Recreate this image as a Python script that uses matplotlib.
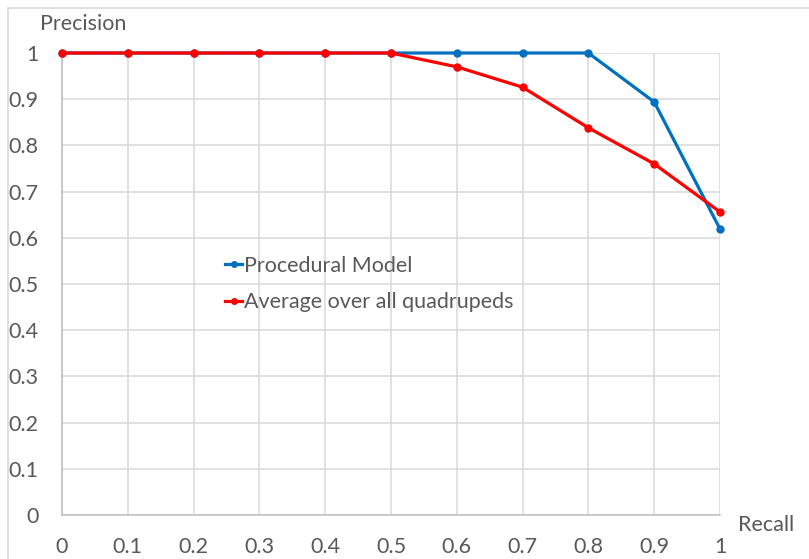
import matplotlib
matplotlib.use("Agg")
import matplotlib.pyplot as plt
from matplotlib.patches import Rectangle

# Precision-recall values
recall = [0, 0.1, 0.2, 0.3, 0.4, 0.5, 0.6, 0.7, 0.8, 0.9, 1.0]
precision_procedural = [1, 1, 1, 1, 1, 1, 1, 1, 1, 0.894, 0.619]
precision_average = [1, 1, 1, 1, 1, 1, 0.970, 0.926, 0.838, 0.760, 0.656]

series_names = ["Procedural Model", "Average over all quadrupeds"]
x_ticks = [0, 0.1, 0.2, 0.3, 0.4, 0.5, 0.6, 0.7, 0.8, 0.9, 1]
x_tick_labels = ["0", "0.1", "0.2", "0.3", "0.4", "0.5", "0.6", "0.7", "0.8", "0.9", "1"]
y_ticks = [0, 0.1, 0.2, 0.3, 0.4, 0.5, 0.6, 0.7, 0.8, 0.9, 1]
y_tick_labels = ["0", "0.1", "0.2", "0.3", "0.4", "0.5", "0.6", "0.7", "0.8", "0.9", "1"]

text_color = "#595959"
grid_color = "#d9d9d9"
fs = 15.5
plt.rcParams["font.family"] = ["Lato", "DejaVu Sans"]

fig = plt.figure(figsize=(8.09, 5.59), dpi=100)
ax = fig.add_axes([62 / 809, 1 - 515 / 559, (720 - 62) / 809, (515 - 53) / 559])

# outer chart border
fig.patches.append(Rectangle((8 / 809, -0.05), 1.1, 1 - 8 / 559 + 0.05,
                             transform=fig.transFigure, fill=False,
                             edgecolor="#d9d9d9", linewidth=1.2))

ax.plot(recall, precision_procedural, color="#0070C0", linewidth=2.3,
        marker="o", markersize=5, label=series_names[0], clip_on=False, zorder=3)
ax.plot(recall, precision_average, color="#FF0000", linewidth=2.3,
        marker="o", markersize=5, label=series_names[1], clip_on=False, zorder=4)

ax.set_xlim(0, 1)
ax.set_ylim(0, 1)
ax.set_xticks(x_ticks)
ax.set_xticklabels(x_tick_labels)
ax.set_yticks(y_ticks)
ax.set_yticklabels(y_tick_labels)
ax.tick_params(length=0, labelsize=fs, colors=text_color)
ax.tick_params(axis="x", pad=16)
ax.tick_params(axis="y", pad=17)
ax.grid(True, color=grid_color, linewidth=1.1)
ax.set_axisbelow(True)
for side in ["top", "right"]:
    ax.spines[side].set_visible(False)
for side in ["left", "bottom"]:
    ax.spines[side].set_color("#bfbfbf")
    ax.spines[side].set_linewidth(1.1)

fig.text(40 / 809, 1 - 24 / 559, "Precision", fontsize=fs, color=text_color,
         ha="left", va="center")
fig.text(738 / 809, 1 - 525 / 559, "Recall", fontsize=fs, color=text_color,
         ha="left", va="center")

leg = ax.legend(loc="upper left", bbox_to_anchor=((225 - 62) / 658, (515 - 256) / 462),
                frameon=False, fontsize=fs, handlelength=0.8, handletextpad=0.1,
                labelspacing=0.75, borderaxespad=0, borderpad=0, markerscale=0.8)
for t in leg.get_texts():
    t.set_color(text_color)

fig.savefig("out.png", dpi=100)
